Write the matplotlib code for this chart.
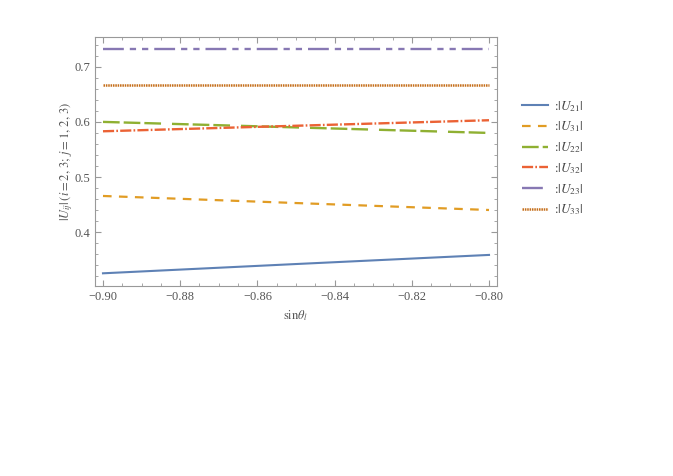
import matplotlib
matplotlib.use("Agg")
import matplotlib.pyplot as plt
from matplotlib.ticker import MultipleLocator

x_vals = [-0.90, -0.85, -0.80]
U21 = [0.3257, 0.3425, 0.3590]
U31 = [0.4658, 0.4530, 0.4404]
U22 = [0.6000, 0.5900, 0.5800]
U32 = [0.5830, 0.5930, 0.6030]
U23 = [0.7315, 0.7315, 0.7315]
U33 = [0.6667, 0.6667, 0.6667]

labels = [r":$|U_{21}|$", r":$|U_{31}|$", r":$|U_{22}|$",
          r":$|U_{32}|$", r":$|U_{23}|$", r":$|U_{33}|$"]
series = [U21, U31, U22, U32, U23, U33]
colors = ["#5E81B5", "#E19C24", "#8FB032", "#EB6235", "#8778B3", "#C56E1A"]
styles = ["-",
          (0, (6.2, 5.3)),
          (0, (12, 2.9, 12, 2.9, 12, 7.9)),
          (0, (8.0, 1.6, 1.2, 1.6)),
          (0, (15, 4.3, 4.5, 4.3, 4.5, 4.3)),
          (0, (1.1, 0.6))]
widths = [1.5, 1.6, 1.7, 1.7, 1.7, 1.8]

plt.rcParams["font.family"] = ["Liberation Serif", "DejaVu Serif"]
plt.rcParams["mathtext.fontset"] = "stix"
plt.rcParams["lines.scale_dashes"] = False

fig = plt.figure(figsize=(6.73, 4.76), dpi=100)
ax = fig.add_axes([95/673, 1-286/476, (497-95)/673, (286-37)/476])

for y, c, ls, lw, lab in zip(series, colors, styles, widths, labels):
    ax.plot(x_vals, y, color=c, linestyle=ls, linewidth=lw, label=lab)

ax.set_xlim(-0.90207, -0.79793)
ax.set_ylim(0.3027, 0.7538)
ax.xaxis.set_minor_locator(MultipleLocator(0.005))
ax.yaxis.set_minor_locator(MultipleLocator(0.02))
ax.set_xticks([-0.90, -0.88, -0.86, -0.84, -0.82, -0.80])
ax.set_xticklabels(["\u22120.90", "\u22120.88", "\u22120.86", "\u22120.84", "\u22120.82", "\u22120.80"])
ax.set_yticks([0.4, 0.5, 0.6, 0.7])
ax.set_yticklabels(["0.4", "0.5", "0.6", "0.7"])
ax.tick_params(which="both", direction="in", top=True, right=True, color="#999999",
               labelcolor="#555555", labelsize=9)
ax.tick_params(which="major", length=4)
ax.tick_params(which="minor", length=2.5)
for s in ax.spines.values():
    s.set_color("#999999")

ax.set_xlabel(r"$\mathrm{sin}\theta_l$", color="#555555", fontsize=9)
ax.set_ylabel(r"$|U_{ij}|\,(i=2,\,3;\,j=1,\,2,\,3)$", color="#555555", fontsize=9)
ax.yaxis.set_label_coords(-0.05, 0.5)

leg = ax.legend(loc="upper left", bbox_to_anchor=(510/673, 1-87/476),
                bbox_transform=fig.transFigure, frameon=False, fontsize=9.5,
                handlelength=2.0, labelspacing=0.45, handletextpad=0.45)
for t in leg.get_texts():
    t.set_color("#444444")

fig.savefig("out.png", dpi=100)
